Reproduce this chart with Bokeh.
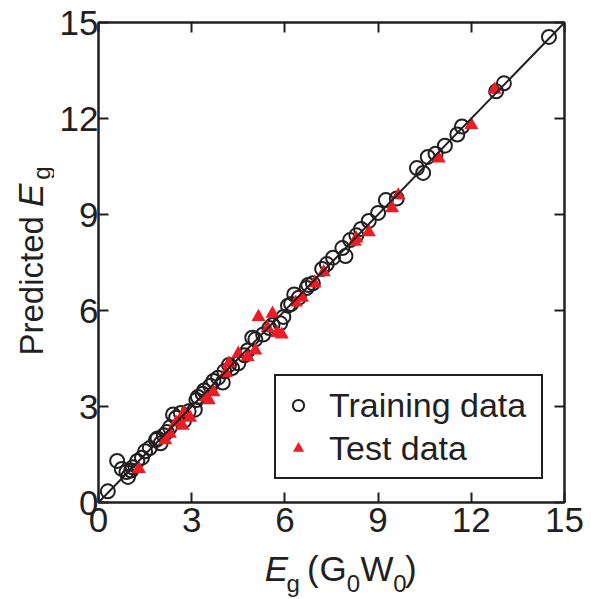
from bokeh.plotting import figure
from bokeh.layouts import row, column
from bokeh.models import (Label, Slope, Legend, LegendItem, LinearAxis,
                          FixedTicker, Range1d)
from bokeh.embed import file_html
from bokeh.resources import INLINE

# ---------------- data ----------------
train_x = [0.3, 0.6, 0.75, 0.9, 0.95, 1.05, 1.1, 1.25, 1.4, 1.5, 1.65, 1.85, 1.9,
           2.0, 2.1, 2.2, 2.3, 2.4, 2.5, 2.65, 2.75, 2.9, 3.1, 3.15, 3.2, 3.35,
           3.4, 3.6, 3.7, 3.85, 4.0, 4.05, 4.2, 4.3, 4.5, 4.7, 4.8, 4.95, 5.05,
           5.3, 5.5, 5.6, 5.85, 5.95, 6.1, 6.2, 6.3, 6.45, 6.7, 6.75, 6.9, 7.2,
           7.35, 7.55, 7.85, 7.95, 8.1, 8.3, 8.45, 8.7, 9.0, 9.25, 9.6, 10.25,
           10.45, 10.6, 10.85, 11.15, 11.55, 11.7, 12.8, 13.05, 14.5]
train_y = [0.35, 1.3, 1.05, 0.95, 0.8, 1.0, 1.1, 1.3, 1.4, 1.6, 1.7, 1.95, 2.0,
           1.85, 2.1, 2.2, 2.35, 2.75, 2.65, 2.8, 2.55, 2.85, 2.9, 3.2, 3.3, 3.4,
           3.5, 3.65, 3.8, 3.9, 3.75, 4.1, 4.3, 4.2, 4.35, 4.6, 4.75, 5.15, 5.1,
           5.25, 5.45, 5.55, 5.6, 5.8, 6.15, 6.2, 6.5, 6.4, 6.7, 6.8, 6.85, 7.3,
           7.45, 7.65, 7.95, 7.7, 8.2, 8.35, 8.55, 8.8, 9.05, 9.45, 9.5, 10.45,
           10.3, 10.8, 10.9, 11.15, 11.5, 11.75, 12.85, 13.1, 14.55]

test_x = [1.3, 2.15, 2.3, 2.5, 2.7, 2.75, 2.95, 3.45, 3.55, 3.7, 4.1, 4.2, 4.5,
          4.8, 5.05, 5.15, 5.45, 5.6, 5.75, 5.9, 6.35, 6.55, 6.95, 7.25, 8.25,
          8.3, 8.7, 9.45, 9.65, 10.95, 12.0, 12.75]
test_y = [1.05, 1.95, 2.15, 2.5, 2.4, 2.8, 2.65, 3.3, 3.2, 3.45, 4.05, 4.35, 4.65,
          4.55, 4.75, 5.8, 5.45, 5.9, 5.3, 5.25, 6.25, 6.4, 6.85, 7.2, 8.15,
          8.25, 8.45, 9.2, 9.6, 10.75, 11.8, 12.9]

ticks = [0, 3, 6, 9, 12, 15]
axis_min, axis_max = 0, 15
legend_labels = ["Training data", "Test data"]

# ---------------- style ----------------
INK = "#231f20"
RED = "#ed1c24"
FONT = "Liberation Sans"
TICK_FS = 35
LAB_FS = 35
SUB_FS = 24
LEG_FS = 34
MID = 0.3465          # (ascent - descent) / 2 of the font, in em

LEFT_W = 54       # strip holding the y title
BOTTOM_H = 50     # strip holding the x title
MAIN_W, MAIN_H = 536, 548
PAGE_H = MAIN_H + BOTTOM_H

p = figure(width=MAIN_W, height=MAIN_H, output_backend="svg", toolbar_location=None,
           x_range=Range1d(axis_min, axis_max), y_range=Range1d(axis_min, axis_max),
           min_border_left=44, min_border_right=26, min_border_top=22,
           min_border_bottom=46, background_fill_color="white",
           border_fill_color="white")
p.grid.visible = False
p.outline_line_color = INK
p.outline_line_width = 2

r_train = p.scatter(train_x, train_y, marker="circle", size=14,
                    fill_color=None, line_color=INK, line_width=2)
r_test = p.scatter(test_x, test_y, marker="triangle", size=14,
                   fill_color=RED, line_color=None)

p.add_layout(Slope(gradient=1, y_intercept=0, line_color=INK, line_width=2))


def style_axis(ax, show_labels=True):
    ax.ticker = FixedTicker(ticks=ticks)
    ax.axis_line_color = INK
    ax.axis_line_width = 2
    ax.major_tick_in = 10
    ax.major_tick_out = 0
    ax.major_tick_line_color = INK
    ax.major_tick_line_width = 2
    ax.minor_tick_line_color = None
    ax.major_label_text_font = FONT
    ax.major_label_text_font_size = f"{TICK_FS}px"
    ax.major_label_text_color = INK
    if not show_labels:
        ax.major_label_overrides = {t: "" for t in ticks}
        ax.major_label_standoff = 0


for ax in p.xaxis + p.yaxis:
    style_axis(ax)
p.xaxis.major_label_standoff = 5
p.yaxis.major_label_standoff = 0

top_ax = LinearAxis()
right_ax = LinearAxis()
style_axis(top_ax, False)
style_axis(right_ax, False)
p.add_layout(top_ax, "above")
p.add_layout(right_ax, "right")

legend = Legend(items=[LegendItem(label=legend_labels[0], renderers=[r_train]),
                       LegendItem(label=legend_labels[1], renderers=[r_test])],
                location=(176, 23), padding=8, spacing=1, margin=0,
                glyph_width=28, glyph_height=28, label_height=42, label_width=204,
                label_standoff=17, label_text_font=FONT,
                label_text_font_size=f"{LEG_FS}px", label_text_color=INK,
                border_line_color=INK, border_line_width=2, border_line_alpha=1,
                background_fill_color="white", background_fill_alpha=1)
p.add_layout(legend)

# ---------------- axis titles (mixed italic / subscript pieces) ----------------
ADV = {'P': .667, 'r': .333, 'e': .556, 'd': .556, 'i': .222, 'c': .5, 't': .278,
       ' ': .278, 'E': .667, 'g': .556, '(': .333, 'G': .778, '0': .556,
       'W': .944, ')': .333}


def width(s, fs):
    return sum(ADV[ch] for ch in s) * fs


# (text, font style, font size, subscript drop px, gap before piece px)
x_pieces = [("E", "italic", LAB_FS, 0, 0), ("g", "normal", SUB_FS, 11, 1),
            ("(", "normal", LAB_FS, 0, 10), ("G", "normal", LAB_FS, 0, 4),
            ("0", "normal", SUB_FS, 11, 3), ("W", "normal", LAB_FS, 0, 4),
            ("0", "normal", SUB_FS, 11, 3), (")", "normal", LAB_FS, 0, 0)]
y_pieces = [("Predicted", "normal", 33, 0, 0), ("E", "italic", LAB_FS, 0, 9),
            ("g", "normal", SUB_FS, 7, 4)]


def strip(w, h):
    f = figure(width=w, height=h, output_backend="svg", toolbar_location=None,
               x_range=Range1d(0, w), y_range=Range1d(0, h), min_border=0,
               x_axis_type=None, y_axis_type=None, outline_line_color=None,
               background_fill_color="white", border_fill_color="white")
    f.grid.visible = False
    return f


def piece_label(fig, txt, sty, fs, x, y, angle=0.0):
    fig.add_layout(Label(x=x, y=y, text=txt, text_font=FONT, text_font_style=sty,
                         text_font_size=f"{fs}px", text_color=INK,
                         text_baseline="middle", text_align="center", angle=angle))


# x title: starts at page x 247, baseline at page y 580
xs = strip(MAIN_W, BOTTOM_H)
pos, base = 247.0, 580.0
for txt, sty, fs, drop, gap in x_pieces:
    pos += gap
    w = width(txt, fs)
    page_y = base + drop - MID * fs
    piece_label(xs, txt, sty, fs, pos + w / 2 - LEFT_W, PAGE_H - page_y)
    pos += w

# y title: reads upwards from page y 355, baseline at page x 42
ys = strip(LEFT_W, PAGE_H)
pos, base = 355.0, 42.0
for txt, sty, fs, drop, gap in y_pieces:
    pos -= gap
    w = width(txt, fs)
    page_x = base + drop - MID * fs
    piece_label(ys, txt, sty, fs, page_x, PAGE_H - (pos - w / 2), angle=1.5708)
    pos -= w

layout = row(ys, column(p, xs))
open("out.html", "w").write(file_html(layout, INLINE))
